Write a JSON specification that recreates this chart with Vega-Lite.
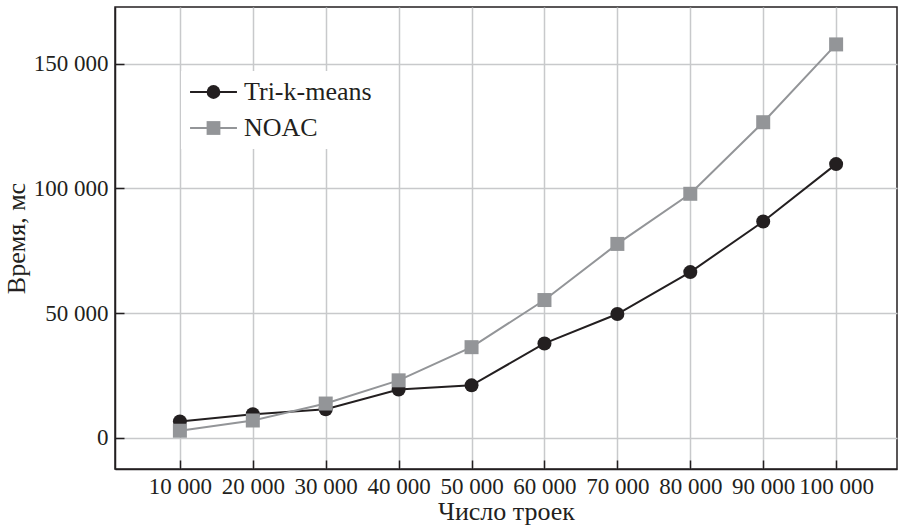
{
  "$schema": "https://vega.github.io/schema/vega-lite/v6.json",
  "autosize": "none",
  "width": 782,
  "height": 462,
  "padding": {"left": 115, "top": 7, "right": 1, "bottom": 60},
  "background": "white",
  "config": {
    "font": "Liberation Serif",
    "view": {"stroke": "#231f20", "strokeWidth": 1.5},
    "axis": {
      "domainColor": "#231f20",
      "domainWidth": 1.5,
      "tickColor": "#231f20",
      "tickWidth": 1.5,
      "tickSize": -9,
      "gridColor": "#c8c9cb",
      "gridWidth": 1.5,
      "gridOpacity": 1,
      "labelFont": "Liberation Serif",
      "labelFontSize": 23,
      "labelColor": "#231f20",
      "titleFont": "Liberation Serif",
      "titleFontSize": 26,
      "titleFontWeight": "normal",
      "titleColor": "#231f20"
    }
  },
  "data": {
    "values": [
      {"n": 10000, "t": 6500, "series": "Tri-k-means"},
      {"n": 20000, "t": 9400, "series": "Tri-k-means"},
      {"n": 30000, "t": 11400, "series": "Tri-k-means"},
      {"n": 40000, "t": 19300, "series": "Tri-k-means"},
      {"n": 50000, "t": 21000, "series": "Tri-k-means"},
      {"n": 60000, "t": 37800, "series": "Tri-k-means"},
      {"n": 70000, "t": 49600, "series": "Tri-k-means"},
      {"n": 80000, "t": 66400, "series": "Tri-k-means"},
      {"n": 90000, "t": 86700, "series": "Tri-k-means"},
      {"n": 100000, "t": 109700, "series": "Tri-k-means"},
      {"n": 10000, "t": 2800, "series": "NOAC"},
      {"n": 20000, "t": 6900, "series": "NOAC"},
      {"n": 30000, "t": 13700, "series": "NOAC"},
      {"n": 40000, "t": 23000, "series": "NOAC"},
      {"n": 50000, "t": 36300, "series": "NOAC"},
      {"n": 60000, "t": 55200, "series": "NOAC"},
      {"n": 70000, "t": 77700, "series": "NOAC"},
      {"n": 80000, "t": 97800, "series": "NOAC"},
      {"n": 90000, "t": 126500, "series": "NOAC"},
      {"n": 100000, "t": 157700, "series": "NOAC"}
    ]
  },
  "encoding": {
    "x": {
      "field": "n",
      "type": "quantitative",
      "scale": {"domain": [1100, 108350], "nice": false, "zero": false},
      "axis": {
        "title": "Число троек",
        "values": [10000, 20000, 30000, 40000, 50000, 60000, 70000, 80000, 90000, 100000],
        "labelExpr": "replace(format(datum.value, ','), ',', ' ')",
        "labelPadding": 15,
        "labelFlush": false,
        "labelOverlap": false,
        "titlePadding": 0
      }
    },
    "y": {
      "field": "t",
      "type": "quantitative",
      "scale": {"domain": [-12550, 172700], "nice": false, "zero": false},
      "axis": {
        "title": "Время, мс",
        "values": [0, 50000, 100000, 150000],
        "labelExpr": "replace(format(datum.value, ','), ',', ' ')",
        "labelPadding": 16,
        "labelFlush": false,
        "labelOverlap": false,
        "titlePadding": 4
      }
    }
  },
  "layer": [
    {
      "mark": {"type": "line", "strokeWidth": 2},
      "encoding": {
        "stroke": {
          "field": "series",
          "type": "nominal",
          "scale": {"domain": ["NOAC", "Tri-k-means"], "range": ["#939598", "#231f20"]},
          "legend": {
            "title": null,
            "orient": "none",
            "legendX": 66,
            "legendY": 64,
            "values": ["Tri-k-means", "NOAC"],
            "fillColor": "white",
            "padding": 8,
            "labelFont": "Liberation Serif",
            "labelFontSize": 26,
            "labelOpacity": 0,
            "symbolType": "M-3.35,0H3.35",
            "symbolSize": 196,
            "symbolStrokeWidth": 2,
            "symbolOffset": 11.5,
            "labelOffset": 17.5,
            "rowPadding": 10
          }
        }
      }
    },
    {
      "mark": {"type": "point", "filled": true, "opacity": 1, "size": 196},
      "encoding": {
        "color": {
          "field": "series",
          "type": "nominal",
          "scale": {"domain": ["Tri-k-means", "NOAC"], "range": ["#231f20", "#939598"]},
          "legend": {
            "title": null,
            "orient": "none",
            "legendX": 66,
            "legendY": 64,
            "padding": 8,
            "labelFont": "Liberation Serif",
            "labelFontSize": 26,
            "labelColor": "#231f20",
            "symbolSize": 190,
            "symbolOpacity": 1,
            "symbolOffset": 11.5,
            "labelOffset": 17.5,
            "rowPadding": 10
          }
        },
        "shape": {
          "field": "series",
          "type": "nominal",
          "scale": {"domain": ["Tri-k-means", "NOAC"], "range": ["circle", "square"]},
          "legend": {
            "title": null,
            "orient": "none",
            "legendX": 66,
            "legendY": 64,
            "padding": 8,
            "labelFont": "Liberation Serif",
            "labelFontSize": 26,
            "labelColor": "#231f20",
            "symbolSize": 190,
            "symbolOpacity": 1,
            "symbolOffset": 11.5,
            "labelOffset": 17.5,
            "rowPadding": 10
          }
        }
      }
    }
  ]
}
